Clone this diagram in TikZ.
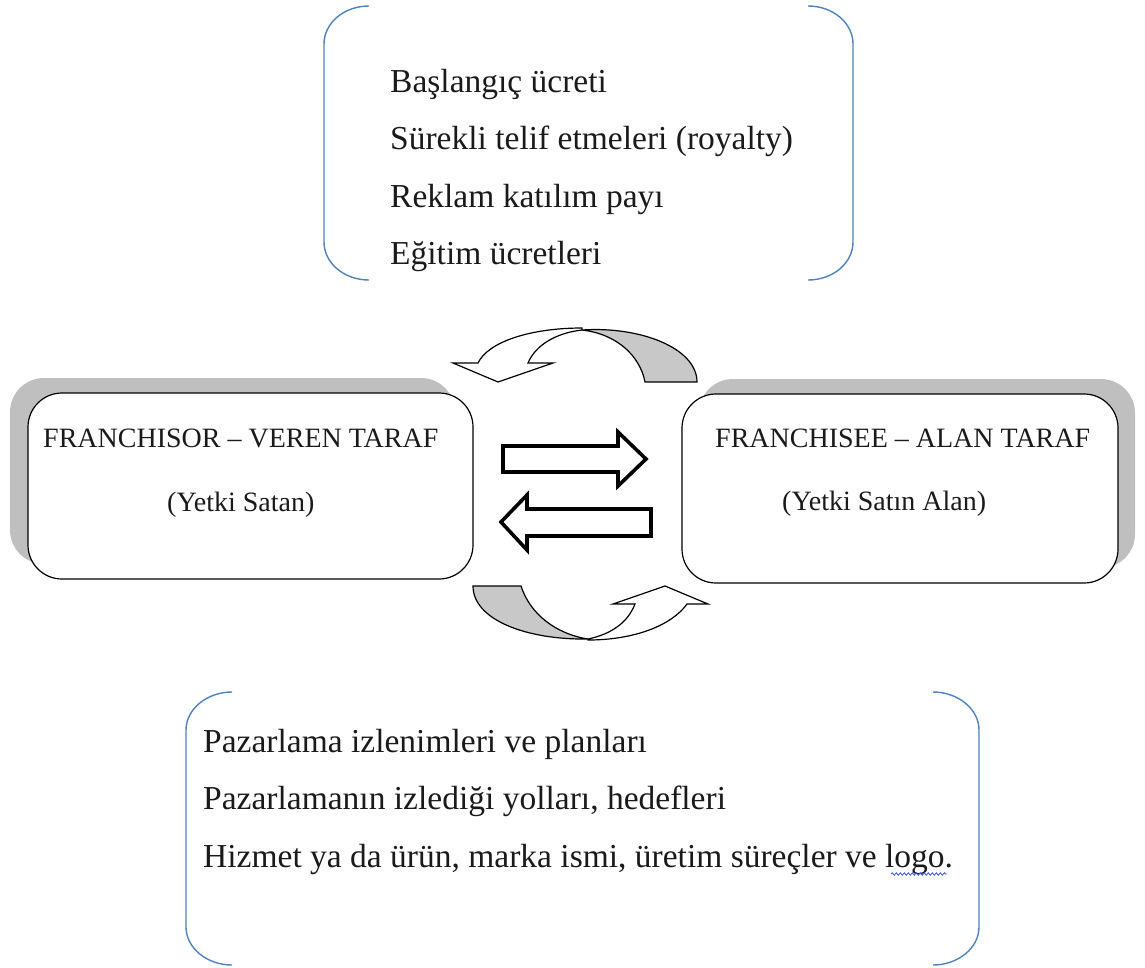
\documentclass[tikz,border=0pt]{standalone}
\usepackage{fontspec}
\setmainfont{Liberation Serif}
\usetikzlibrary{decorations.pathmorphing}
\definecolor{bracketblue}{HTML}{4F81BD}
\definecolor{shadowgray}{HTML}{BFBFBF}
\definecolor{bandgray}{HTML}{C8C8C8}
\definecolor{textblack}{HTML}{1A1A1A}
\definecolor{spellblue}{HTML}{3355DD}
\begin{document}
\begin{tikzpicture}[x=1pt,y=-1pt,
  bigtext/.style={anchor=base west, inner sep=0pt, text=textblack, font=\fontsize{33.5}{40}\selectfont},
  boxtext/.style={anchor=base west, inner sep=0pt, text=textblack, font=\fontsize{28}{34}\selectfont},
  bracketline/.style={draw=bracketblue, line width=1.4pt},
  partybox/.style={draw=black, fill=white, line width=1.2pt, rounded corners=34pt},
  shadowbox/.style={fill=shadowgray, rounded corners=34pt},
  blockarrow/.style={draw=black, fill=white, line width=3.6pt, line join=miter},
  bandback/.style={draw=black, fill=bandgray, line width=1.2pt},
  bandfront/.style={draw=black, fill=white, line width=1.2pt},
  spellwave/.style={draw=spellblue, line width=0.8pt, decorate,
    decoration={snake, amplitude=1.2pt, segment length=4pt}}]
\useasboundingbox (0,0) rectangle (1145,967);

% ---------- top bracket pair ----------
\draw[bracketline] (369,6) .. controls (344,6) and (324,23) .. (324,44) -- (324,242)
  .. controls (324,263) and (344,280) .. (369,280);
\draw[bracketline] (808,6) .. controls (833,6) and (853,23) .. (853,44) -- (853,242)
  .. controls (853,263) and (833,280) .. (808,280);
\node[bigtext] (t1) at (390,92) {Başlangıç ücreti};
\node[bigtext] (t2) at (390,149) {Sürekli telif etmeleri (royalty)};
\node[bigtext] (t3) at (390,207) {Reklam katılım payı};
\node[bigtext] (t4) at (390,264) {Eğitim ücretleri};

% ---------- top curved arrow ----------
\draw[bandback] (645,382) .. controls (640,356) and (617,334) .. (582,330)
  .. controls (640,326) and (697,348) .. (697,382) -- cycle;
\draw[bandfront] (582,330) .. controls (555,333) and (535,346) .. (528,363)
  -- (553,363) -- (498,382) -- (453,363) -- (478,363)
  .. controls (488,342) and (530,328) .. (582,328) -- cycle;

% ---------- party boxes ----------
\fill[shadowbox] (10,378) rectangle (455,564);
\draw[partybox] (28,393) rectangle (473,579);
\node[boxtext] (l1) at (43,447) {FRANCHISOR – VEREN TARAF};
\node[boxtext] (l2) at (167,511) {(Yetki Satan)};

\fill[shadowbox] (699,379) rectangle (1135,568);
\draw[partybox] (682,394) rectangle (1118,583);
\node[boxtext] (r1) at (715,447) {FRANCHISEE – ALAN TARAF};
\node[boxtext] (r2) at (782,510) {(Yetki Satın Alan)};

% ---------- block arrows ----------
\draw[blockarrow] (503,446) -- (618,446) -- (618,432) -- (646,459) -- (618,486)
  -- (618,472) -- (503,472) -- cycle;
\draw[blockarrow] (651,509) -- (527,509) -- (527,495) -- (501,522) -- (527,550)
  -- (527,536) -- (651,536) -- cycle;

% ---------- bottom curved arrow ----------
\draw[bandback] (473,586) -- (521,586) .. controls (530,614) and (556,634) .. (588,639)
  .. controls (527,640) and (473,620) .. (473,586) -- cycle;
\draw[bandfront] (588,640) .. controls (635,640) and (672,625) .. (687,604)
  -- (708,604) -- (665,586) -- (613,604) -- (635,604)
  .. controls (628,622) and (612,634) .. (588,639) -- cycle;

% ---------- bottom bracket pair ----------
\draw[bracketline] (232,692) .. controls (207,692) and (186,709) .. (186,730) -- (186,927)
  .. controls (186,948) and (207,965) .. (232,965);
\draw[bracketline] (933,692) .. controls (958,692) and (979,709) .. (979,730) -- (979,927)
  .. controls (979,948) and (958,965) .. (933,965);
\node[bigtext] (b1) at (203,752) {Pazarlama izlenimleri ve planları};
\node[bigtext] (b2) at (203,809) {Pazarlamanın izlediği yolları, hedefleri};
\node[bigtext] (b3) at (203,867) {Hizmet ya da ürün, marka ismi, üretim süreçler ve logo.};
\coordinate (w1) at (891,874);
\coordinate (w2) at (947,874);
\draw[spellwave] (w1) -- (w2);
\end{tikzpicture}
\end{document}
